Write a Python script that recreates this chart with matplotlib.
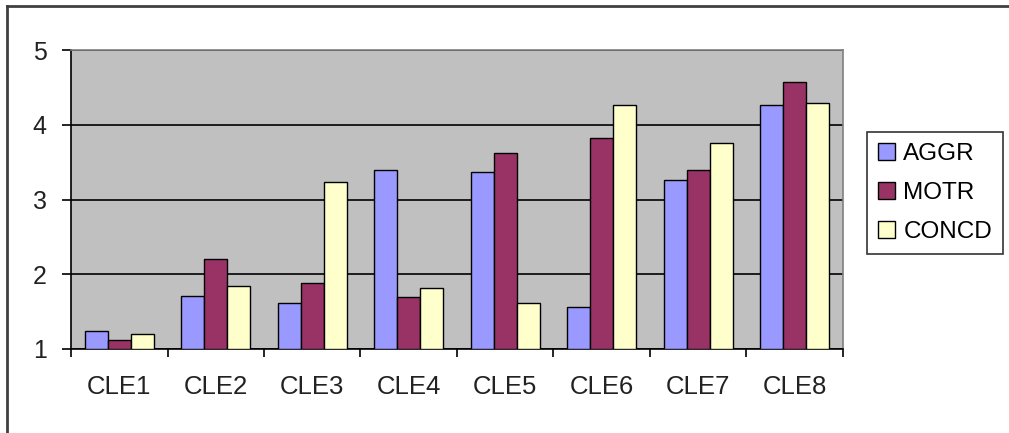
import numpy as np
import matplotlib.pyplot as plt
from matplotlib.lines import Line2D

plt.rcParams["font.family"] = ["Liberation Sans", "DejaVu Sans"]

# mean scores per cluster
categories = ["CLE1", "CLE2", "CLE3", "CLE4", "CLE5", "CLE6", "CLE7", "CLE8"]
aggr = [1.24, 1.71, 1.61, 3.39, 3.37, 1.56, 3.26, 4.27]
motr = [1.12, 2.21, 1.88, 1.70, 3.62, 3.82, 3.39, 4.57]
concd = [1.20, 1.84, 3.24, 1.82, 1.61, 4.27, 3.75, 4.29]
series_names = ["AGGR", "MOTR", "CONCD"]

colors = ["#9999FF", "#993366", "#FFFFCC"]

fig = plt.figure(figsize=(10.09, 4.33), dpi=100)
ax = fig.add_axes([0.0704, 0.194, 0.765, 0.6905])
ax.set_facecolor("#C0C0C0")

x = np.arange(len(categories))
w = 0.238
for i, (vals, name, c) in enumerate(zip([aggr, motr, concd], series_names, colors)):
    ax.bar(x + (i - 1) * w, np.array(vals) - 1, width=w, bottom=1, color=c,
           edgecolor="black", linewidth=1, label=name, zorder=3)

ax.set_ylim(1, 5)
ax.set_xlim(-0.5, len(categories) - 0.5)
ax.set_yticks([1, 2, 3, 4, 5])
ax.yaxis.grid(True, color="black", linewidth=1.2, zorder=1)
ax.set_axisbelow(True)

ax.set_xticks(x)
ax.set_xticklabels(categories, fontsize=18.5, color="#222222")
ax.tick_params(axis="x", which="major", length=0, pad=19)
ax.set_xticks(np.arange(-0.5, len(categories)), minor=True)
ax.tick_params(axis="x", which="minor", length=6, width=1.2, direction="out")
ax.tick_params(axis="y", length=6.5, width=1.2, labelsize=18, pad=11,
               labelcolor="#222222")

for s in ["left", "bottom"]:
    ax.spines[s].set_color("black")
    ax.spines[s].set_linewidth(1.2)
for s in ["top", "right"]:
    ax.spines[s].set_color("#808080")
    ax.spines[s].set_linewidth(1.2)

leg = ax.legend(loc="center left", bbox_to_anchor=(1.031, 0.522), frameon=True,
                fancybox=False, edgecolor="black", fontsize=17.5, handlelength=0.7,
                handleheight=0.7, handletextpad=0.35, labelspacing=0.7,
                borderpad=0.45, borderaxespad=0)
leg.get_frame().set_linewidth(1.2)

# outer frame
fig.add_artist(Line2D([0.0065, 0.0065], [0.0, 0.985], transform=fig.transFigure,
                      color="#404040", linewidth=2))
fig.add_artist(Line2D([0.0065, 1.0], [0.985, 0.985], transform=fig.transFigure,
                      color="#404040", linewidth=2))

fig.savefig("out.png", dpi=100)
